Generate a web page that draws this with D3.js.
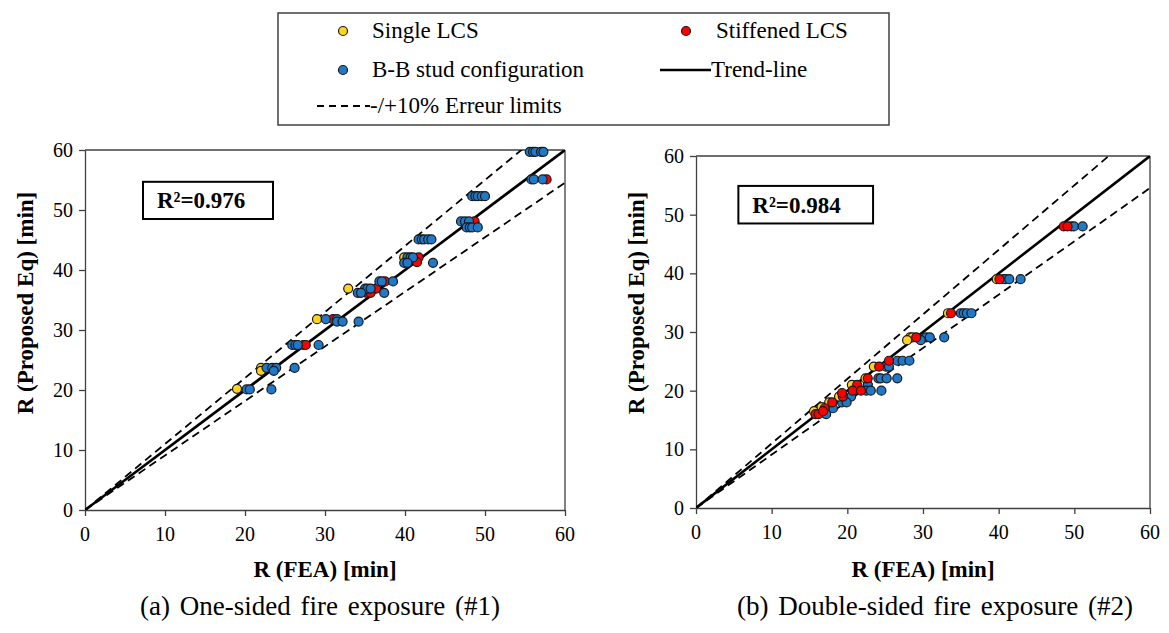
<!DOCTYPE html>
<html><head><meta charset="utf-8">
<script src="https://cdn.jsdelivr.net/npm/d3@7"></script>
</head>
<body><svg id="chart" width="1169" height="633" style="position:absolute;left:0;top:0;background:#fff"></svg>
<script>
// ---------- DATA ----------
const ticks = [0, 10, 20, 30, 40, 50, 60];
const seriesNames = ["Single LCS", "Stiffened LCS", "B-B stud configuration"];
const seriesColors = ["#ffd21f", "#ff0000", "#1f78c8"];
const r2Labels = ["R²=0.976", "R²=0.984"];
const captions = ["(a) One-sided fire exposure (#1)", "(b) Double-sided fire exposure (#2)"];
const errorLimit = 0.10;

// [R (FEA), R (Proposed Eq)] - panel (a)
const aSingle = [[19.0,20.2],[22.0,23.7],[22.0,23.2],[29.0,31.8],[32.9,36.9],[39.9,42.1]];
const aStiffened = [[48.7,48.1],[57.7,55.1],[41.7,42.1],[41.5,41.3],[37.5,38.1],[36.4,36.9],
  [35.2,36.2],[35.7,36.2],[31.0,31.8],[27.3,27.5],[27.6,27.5]];
const aBB = [[55.6,59.7],[56.0,59.7],[56.3,59.7],[57.0,59.7],[57.3,59.7],
  [55.8,55.1],[56.1,55.1],[57.2,55.1],
  [48.4,52.3],[48.8,52.3],[49.1,52.3],[49.6,52.3],[50.0,52.3],
  [47.0,48.1],[47.5,48.1],[48.0,48.1],
  [47.7,47.1],[48.1,47.1],[48.4,47.1],[49.1,47.1],
  [41.7,45.1],[42.1,45.1],[42.4,45.1],[42.9,45.1],[43.3,45.1],
  [40.3,42.1],[40.7,42.1],[41.0,42.1],
  [39.9,41.2],[40.3,41.2],[43.5,41.2],
  [36.8,38.1],[37.1,38.1],[38.5,38.1],
  [35.0,36.9],[35.3,36.9],[35.7,36.9],
  [34.1,36.2],[34.5,36.2],[37.4,36.2],
  [30.1,31.8],[31.5,31.8],
  [31.5,31.4],[32.2,31.4],[34.2,31.4],
  [25.9,27.5],[26.3,27.5],[26.6,27.5],[29.2,27.5],
  [22.7,23.7],[23.4,23.7],[23.9,23.7],[26.2,23.7],
  [23.6,23.2],
  [20.2,20.1],[20.6,20.1],[23.3,20.1]];

// panel (b)
const bSingle = [[39.75,39.0],[33.3,33.2],[28.3,29.1],[28.6,29.1],[27.9,28.6],[23.5,24.1],
  [22.4,22.1],[20.6,21.0],[18.9,19.0],[17.6,18.0],[15.6,16.5],[16.6,17.2]];
const bStiffened = [[48.6,48.0],[49.1,48.0],[40.1,39.0],[33.7,33.2],[29.1,29.1],[25.5,25.1],
  [24.2,24.1],[22.7,22.1],[21.3,21.0],[20.7,20.0],[21.8,20.0],[19.4,19.0],[19.3,19.6],
  [18.0,18.0],[17.0,17.0],[15.8,16.0],[16.2,16.0],[16.8,16.5]];
const bBB = [[49.6,48.0],[49.95,48.0],[51.1,48.0],
  [40.7,39.0],[40.9,39.0],[41.4,39.0],[42.9,39.0],
  [35.0,33.2],[35.4,33.2],[35.8,33.2],[36.4,33.2],
  [30.4,29.1],[30.9,29.1],[32.8,29.1],[29.7,28.6],
  [26.6,25.1],[27.3,25.1],[28.2,25.1],
  [25.1,24.1],[25.5,24.1],
  [24.1,22.1],[24.4,22.1],[25.2,22.1],[26.6,22.1],
  [22.7,21.0],
  [22.5,20.0],[23.1,20.0],[24.5,20.0],
  [20.5,19.0],[19.3,18.0],[19.9,18.0],[18.1,17.0],[17.2,16.0]];

// ---------- DRAW ----------
const svg = d3.select("#chart");
const FONT = "'Liberation Serif', cursive";
const texts = []; // all texts are drawn last, directly on the svg root
function addText(o) { texts.push(o); }

function panel(opt) {
  const x = d3.scaleLinear().domain([0, 60]).range([opt.x0, opt.x1]);
  const y = d3.scaleLinear().domain([0, 60]).range([opt.y0, opt.y1]);
  const g = svg.append("g");
  const clipId = "clip" + opt.id;
  svg.append("defs").append("clipPath").attr("id", clipId)
    .append("rect").attr("x", opt.x0).attr("y", opt.y1)
    .attr("width", opt.x1 - opt.x0).attr("height", opt.y0 - opt.y1);

  // axes (lines via d3.axis, labels placed from the same scales)
  const xa = g.append("g").attr("transform", `translate(0,${opt.y0})`)
    .call(d3.axisBottom(x).tickValues(ticks).tickSize(6).tickSizeOuter(0).tickFormat(""));
  const ya = g.append("g").attr("transform", `translate(${opt.x0},0)`)
    .call(d3.axisLeft(y).tickValues(ticks).tickSize(6).tickSizeOuter(0).tickFormat(""));
  [xa, ya].forEach(a => {
    a.selectAll("text").remove();
    a.selectAll("path,line").attr("stroke", "#404040").attr("stroke-width", 1.3);
  });
  ticks.forEach(t => {
    addText({x: x(t), y: opt.y0 + 31, s: 20, anchor: "middle", t: String(t)});
    addText({x: opt.x0 - 12, y: y(t) + 7, s: 20, anchor: "end", t: String(t)});
  });
  // frame top/right
  g.append("line").attr("x1", opt.x0).attr("x2", opt.x1).attr("y1", opt.y1).attr("y2", opt.y1)
    .attr("stroke", "#404040").attr("stroke-width", 1.3);
  g.append("line").attr("x1", opt.x1).attr("x2", opt.x1).attr("y1", opt.y1).attr("y2", opt.y0)
    .attr("stroke", "#404040").attr("stroke-width", 1.3);

  // R2 box
  g.append("rect").attr("x", x(opt.box[0])).attr("y", y(opt.box[3]))
    .attr("width", x(opt.box[1]) - x(opt.box[0])).attr("height", y(opt.box[2]) - y(opt.box[3]))
    .attr("fill", "#fff").attr("stroke", "#000").attr("stroke-width", 2);
  addText({x: x(opt.box[0]) + opt.textOff, y: y((opt.box[2] + opt.box[3]) / 2) + 8, s: 23, bold: true, t: opt.r2});

  // lines
  const lg = g.append("g").attr("clip-path", `url(#${clipId})`);
  const line = d3.line().x(d => x(d[0])).y(d => y(d[1]));
  lg.append("path").attr("d", line([[0, 0], [60, 60 * (1 + errorLimit)]]))
    .attr("stroke", "#000").attr("stroke-width", 1.8).attr("stroke-dasharray", "8,5").attr("fill", "none");
  lg.append("path").attr("d", line([[0, 0], [60, 60 / (1 + errorLimit)]]))
    .attr("stroke", "#000").attr("stroke-width", 1.8).attr("stroke-dasharray", "8,5").attr("fill", "none");
  lg.append("path").attr("d", line([[0, 0], [60, 60]]))
    .attr("stroke", "#000").attr("stroke-width", 2.6).attr("fill", "none");

  // points
  opt.order.forEach(i => {
    g.append("g").selectAll("circle").data(opt.series[i]).join("circle")
      .attr("cx", d => x(d[0])).attr("cy", d => y(d[1])).attr("r", 4.5)
      .attr("fill", seriesColors[i]).attr("stroke", "#1a1a1a").attr("stroke-width", 1.2);
  });

  // titles
  addText({x: (opt.x0 + opt.x1) / 2, y: 577, s: 23, bold: true, anchor: "middle", t: "R (FEA) [min]"});
  addText({x: opt.x0 - 52, y: 303, s: 23, bold: true, anchor: "middle", rot: true, t: "R (Proposed Eq) [min]"});
  addText({x: opt.capX, y: 615, s: 27, anchor: "middle", ws: 3, t: opt.caption});
}

panel({id: "a", x0: 85, x1: 565, y0: 510, y1: 150, box: [7.25, 23.5, 48.5, 54.7], textOff: 14,
  r2: r2Labels[0], caption: captions[0], capX: 320,
  series: [aSingle, aStiffened, aBB], order: [0, 1, 2]});
panel({id: "b", x0: 696, x1: 1150, y0: 508, y1: 156, box: [5.6, 23.4, 48.5, 54.9], textOff: 14,
  r2: r2Labels[1], caption: captions[1], capX: 935,
  series: [bSingle, bStiffened, bBB], order: [2, 0, 1]});

// legend
svg.append("rect").attr("x", 278).attr("y", 13).attr("width", 611).attr("height", 112)
  .attr("fill", "#fff").attr("stroke", "#404040").attr("stroke-width", 1.5);
const legItems = [
  {type: "pt", c: 0, mx: 343, tx: 372, y: 31},
  {type: "pt", c: 1, mx: 686, tx: 716, y: 31},
  {type: "pt", c: 2, mx: 343, tx: 372, y: 70},
  {type: "line", x1: 660, x2: 711, tx: 711, y: 70, label: "Trend-line"},
  {type: "dash", x1: 317, x2: 370, tx: 370, y: 106, label: "-/+10% Erreur limits"}
];
legItems.forEach(it => {
  if (it.type === "pt") {
    svg.append("circle").attr("cx", it.mx).attr("cy", it.y).attr("r", 4.5)
      .attr("fill", seriesColors[it.c]).attr("stroke", "#1a1a1a").attr("stroke-width", 1.2);
  } else {
    svg.append("line").attr("x1", it.x1).attr("x2", it.x2).attr("y1", it.y).attr("y2", it.y)
      .attr("stroke", "#000").attr("stroke-width", it.type === "line" ? 2.6 : 1.8)
      .attr("stroke-dasharray", it.type === "dash" ? "7,5" : null);
  }
  addText({x: it.tx, y: it.y + 7, s: 23, t: it.type === "pt" ? seriesNames[it.c] : it.label});
});

// all text, directly on the svg root
texts.forEach(o => {
  const t = svg.append("text").attr("font-size", o.s).style("font-family", FONT).text(o.t);
  if (o.rot) t.attr("transform", `translate(${o.x},${o.y}) rotate(-90)`);
  else t.attr("x", o.x).attr("y", o.y);
  if (o.anchor) t.attr("text-anchor", o.anchor);
  if (o.bold) t.attr("font-weight", "bold");
  if (o.ws) t.attr("word-spacing", o.ws);
});
</script></body></html>
